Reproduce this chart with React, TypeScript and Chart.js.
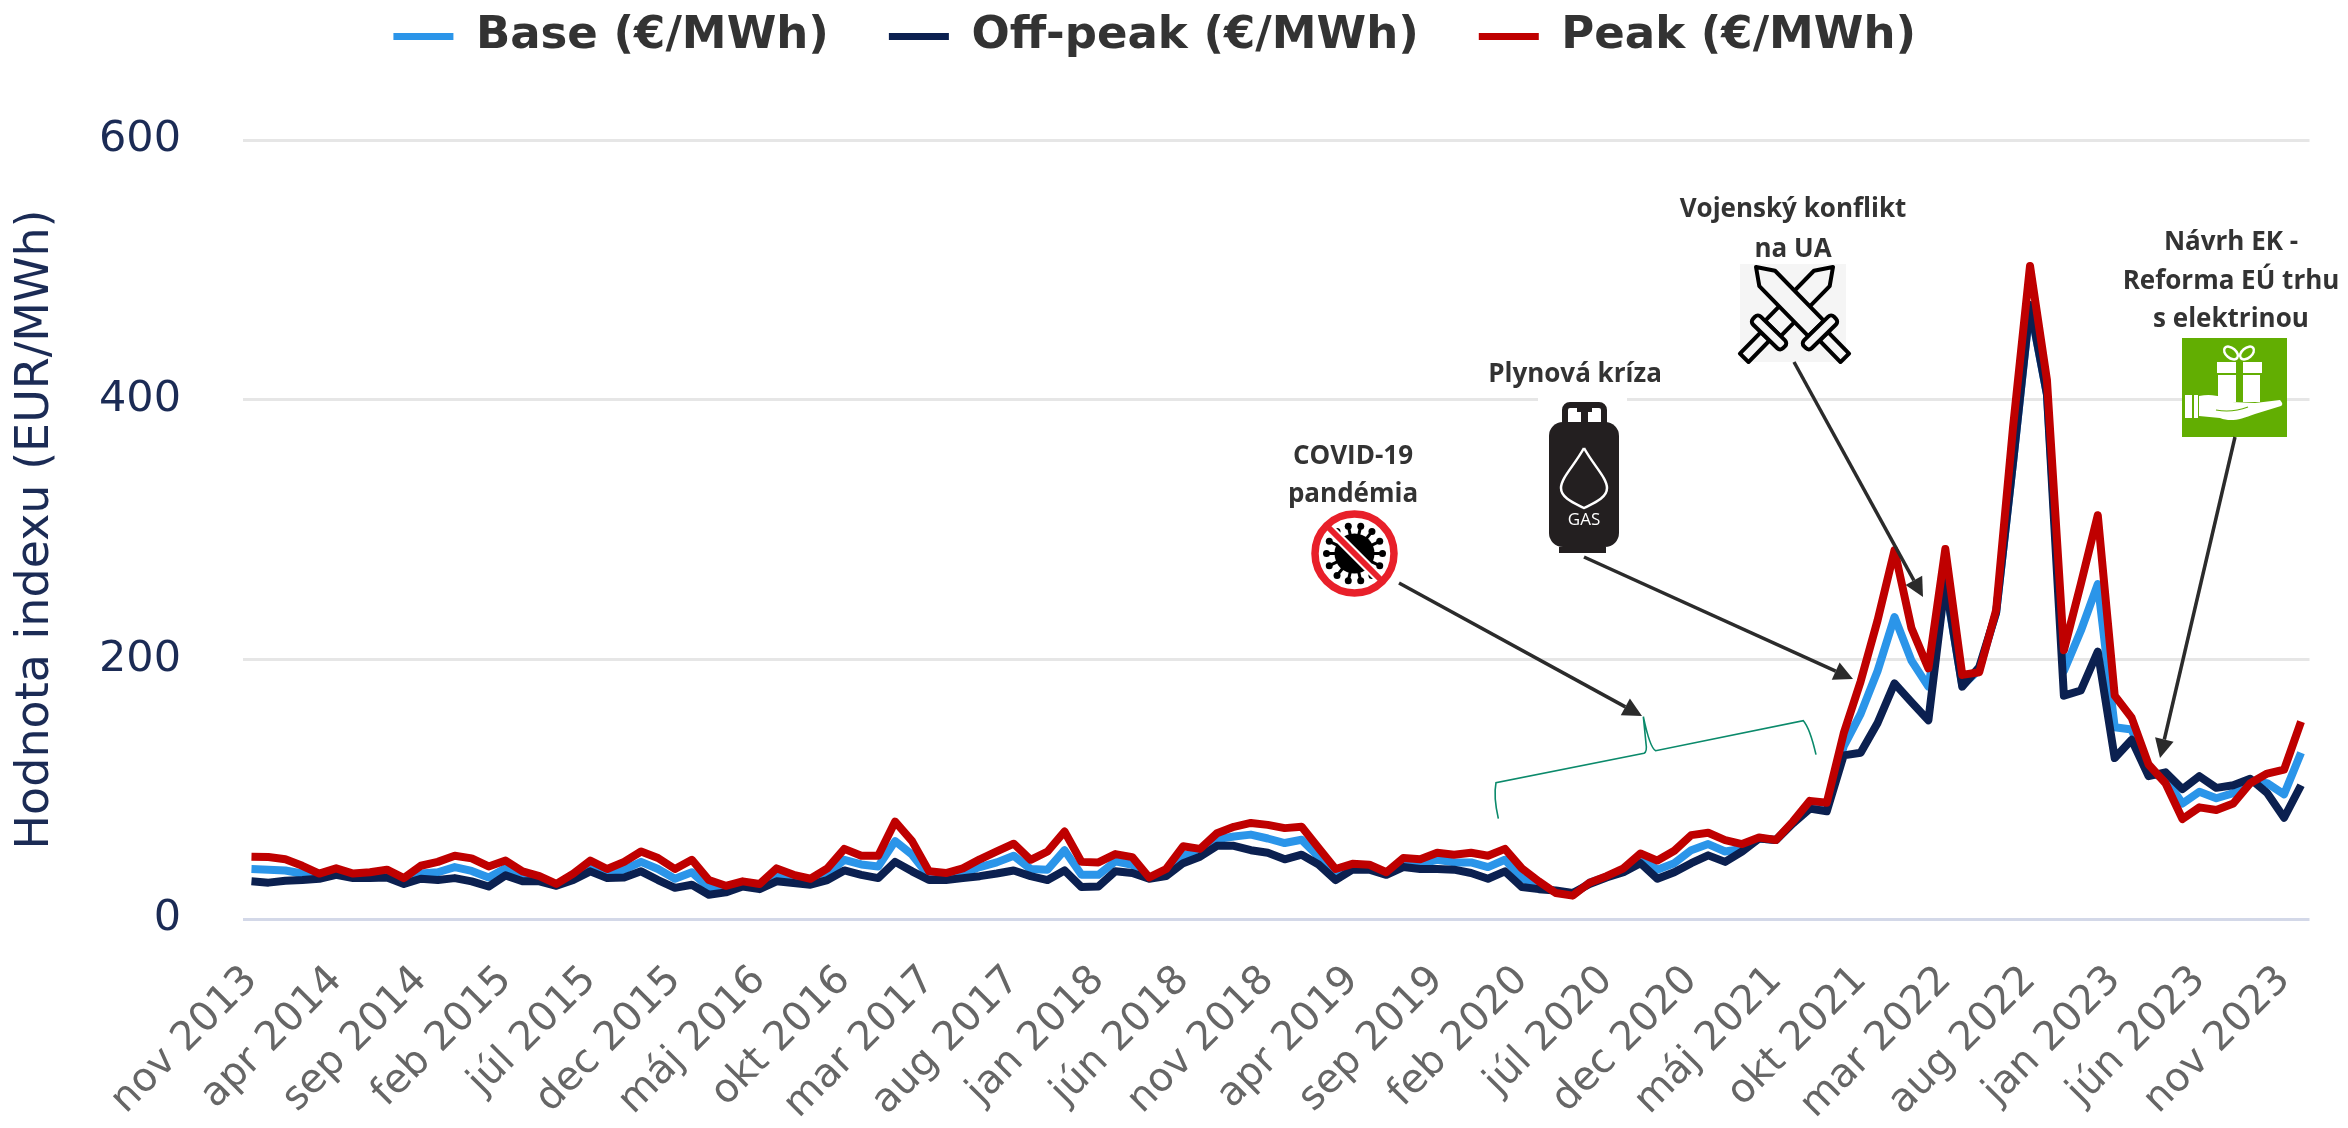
import React, { useEffect, useRef } from "react";
import { Chart, registerables } from "chart.js";

Chart.register(...registerables);

const monthNames = ["jan", "feb", "mar", "apr", "máj", "jún", "júl", "aug", "sep", "okt", "nov", "dec"];
const categories: string[] = [];
for (let i = 0; i < 122; i++) {
  const m = (10 + i) % 12;
  const y = 2013 + Math.floor((10 + i) / 12);
  categories.push(`${monthNames[m]} ${y}`);
}

const baseValues = [
  38.5, 38, 37.4, 35, 34, 37, 33.6, 34, 34.6, 29.5,
  35, 36, 40, 37, 32, 39, 33, 31, 26, 33,
  41, 35, 38, 44, 38.5, 31, 36, 24, 23, 27,
  25, 34, 31, 29, 35, 45.6, 42, 40.5, 60, 49.5,
  33, 33, 35.4, 40, 43.6, 48.7, 38.5, 38, 53, 34,
  34, 44.4, 41.8, 31.5, 35.4, 49.5, 49.5, 61.5, 63.6, 65,
  62, 58.5, 61, 48, 34, 40, 40, 35, 43.6, 42.5,
  45.6, 43.6, 43.6, 40, 45.6, 31.5, 26, 21, 18.7, 28,
  32.5, 37.7, 46.7, 38, 43, 53, 57.7, 52, 54, 62,
  60.8, 74, 88, 86, 133, 158, 191, 232.6, 199, 179,
  258, 180, 192, 236, 352, 472, 404, 191, 222, 258,
  147.7, 146, 113.6, 108, 89, 98, 93, 97, 106, 104.6, 96, 128,
];
const offPeakValues = [
  29, 28, 29.5, 30, 31, 34, 31.5, 31.5, 32, 27,
  31, 30, 31.5, 29, 25, 33.6, 29, 29, 25.6, 30,
  36.7, 31.5, 32, 36.7, 30, 24, 26.4, 18.7, 20.5, 25,
  23, 29, 27.7, 26.4, 30, 37.4, 34, 31.5, 44, 36.7,
  30, 30, 31.5, 33, 35, 37.4, 33, 30, 37.4, 24.6,
  25, 36.7, 35.4, 31, 33, 43, 48, 56.4, 56.4, 53,
  51, 46, 49.5, 42, 30, 38, 38, 34, 40, 38.5,
  38.5, 38, 35.4, 31, 36.7, 24.6, 23, 22, 20, 27,
  32, 36, 43, 31, 36, 43, 49, 44, 52, 62,
  60.8, 73.6, 85, 83, 126, 128, 151, 181.5, 167, 153,
  260, 179, 194, 236, 352, 473, 404, 172, 176, 206,
  124, 138, 110, 113, 100, 110, 101, 103, 108, 97, 78, 103,
];
const peakValues = [
  48, 47.7, 46, 41, 35, 39, 35, 36, 38, 31.5,
  41, 44, 48.7, 46.7, 40.5, 45, 36.7, 33, 27, 35,
  45, 38.5, 44, 52, 47, 38.5, 45.6, 30, 25.6, 29,
  27, 39, 34, 31, 39, 54, 48.7, 48.7, 75, 60,
  36.7, 35.4, 39, 46, 52, 58, 45.6, 52, 67.4, 44,
  43.6, 50, 47.7, 32, 38.5, 56, 54, 66, 71, 74,
  72.5, 70, 71, 54.6, 38.5, 42.5, 41.8, 36, 47, 46,
  51, 49.5, 51, 48.7, 54, 39, 29, 20, 18, 28,
  33, 39, 50.5, 45, 52.6, 64.6, 66.4, 60.8, 57.7, 62.8,
  60.8, 75, 91, 89.5, 143, 183, 230, 284, 224, 193,
  285, 188, 190, 238, 379, 503, 415, 207, 258, 311,
  172, 155, 119, 104.6, 77, 86, 84, 89, 104.6, 112, 115, 152,
];

const NOTE_FONT = 'bold 26px "Open Sans"';
const NOTE_COLOR = "#333333";
const notes: [string, number, number][] = [
  ["Vojenský konflikt", 1793, 210],
  ["na UA", 1793, 250],
  ["Plynová kríza", 1575, 375],
  ["COVID-19", 1353, 457],
  ["pandémia", 1353, 495],
  ["Návrh EK -", 2231, 243],
  ["Reforma EÚ trhu", 2231, 282],
  ["s elektrinou", 2231, 320],
];
const arrows: [number, number, number, number][] = [
  [1399, 583, 1642, 716],
  [1584, 557, 1853, 679],
  [1794, 362, 1923, 597],
  [2235, 437, 2160, 758],
];

function drawArrow(c: CanvasRenderingContext2D, a: [number, number, number, number]) {
  const [x0, y0, x1, y1] = a;
  const t = Math.atan2(y1 - y0, x1 - x0);
  const hl = 19, hw = 9.5;
  c.strokeStyle = "#2b2b2b";
  c.fillStyle = "#2b2b2b";
  c.lineWidth = 3.5;
  c.beginPath();
  c.moveTo(x0, y0);
  c.lineTo(x1 - hl * Math.cos(t), y1 - hl * Math.sin(t));
  c.stroke();
  c.beginPath();
  c.moveTo(x1, y1);
  c.lineTo(x1 - hl * Math.cos(t) - hw * Math.sin(t), y1 - hl * Math.sin(t) + hw * Math.cos(t));
  c.lineTo(x1 - hl * Math.cos(t) + hw * Math.sin(t), y1 - hl * Math.sin(t) - hw * Math.cos(t));
  c.closePath();
  c.fill();
}

function drawBrace(c: CanvasRenderingContext2D) {
  const X = (v: number) => 1480 + v / 3;
  const Y = (v: number) => 640 + v / 3;
  c.strokeStyle = "#0b8a6b";
  c.lineWidth = 1.6;
  c.beginPath();
  c.moveTo(X(55), Y(536));
  c.quadraticCurveTo(X(40), Y(470), X(48), Y(428));
  c.lineTo(X(492), Y(340));
  c.quadraticCurveTo(X(502), Y(335), X(498), Y(310));
  c.lineTo(X(490), Y(230));
  c.quadraticCurveTo(X(510), Y(325), X(527), Y(332));
  c.lineTo(X(970), Y(242));
  c.quadraticCurveTo(X(990), Y(265), X(1008), Y(344));
  c.stroke();
}

function drawSword(c: CanvasRenderingContext2D, x: number, y: number, angle: number, fill: string) {
  c.save();
  c.translate(x, y);
  c.rotate(angle);
  c.lineWidth = 4;
  c.strokeStyle = "#000";
  c.fillStyle = fill;
  c.lineJoin = "round";
  c.beginPath();
  c.moveTo(0, 0);
  c.lineTo(16, -11);
  c.lineTo(86, -11);
  c.lineTo(86, 11);
  c.lineTo(16, 11);
  c.closePath();
  c.fill();
  c.stroke();
  c.beginPath();
  c.rect(97, -6, 30, 12);
  c.fill();
  c.stroke();
  c.beginPath();
  c.roundRect(86, -21, 11, 42, 4);
  c.fill();
  c.stroke();
  c.restore();
}

function drawSwords(c: CanvasRenderingContext2D) {
  c.fillStyle = "#f5f5f5";
  c.fillRect(1740, 264, 106, 98);
  drawSword(c, 1833, 267, Math.PI - Math.atan2(90, 88), "#f5f5f5");
  drawSword(c, 1756, 267, Math.atan2(90, 88), "#f5f5f5");
}

function drawGas(c: CanvasRenderingContext2D) {
  const dark = "#231f20";
  c.fillStyle = "#ffffff";
  c.fillRect(1538, 396, 89, 14);
  c.fillStyle = dark;
  c.strokeStyle = dark;
  c.lineWidth = 6;
  c.beginPath();
  c.roundRect(1565, 405, 39, 24, 5);
  c.stroke();
  c.fillRect(1577, 407, 15, 5);
  c.fillRect(1581, 410, 7, 14);
  c.beginPath();
  c.roundRect(1549, 422, 70, 125, 14);
  c.fill();
  c.fillRect(1559, 547, 47, 6);
  c.strokeStyle = "#ffffff";
  c.lineWidth = 2.5;
  c.beginPath();
  c.moveTo(1584, 448);
  c.bezierCurveTo(1574, 466, 1561, 478, 1561, 488);
  c.bezierCurveTo(1561, 498, 1574, 503, 1584, 508);
  c.bezierCurveTo(1594, 503, 1607, 498, 1607, 488);
  c.bezierCurveTo(1607, 478, 1594, 466, 1584, 448);
  c.stroke();
  c.fillStyle = "#ffffff";
  c.font = '17px "Open Sans"';
  c.textAlign = "center";
  c.textBaseline = "middle";
  c.fillText("GAS", 1584, 520);
}

function drawCovid(c: CanvasRenderingContext2D) {
  const cx = 1354.5, cy = 553.5;
  c.fillStyle = "#ffffff";
  c.beginPath();
  c.arc(cx, cy, 40, 0, Math.PI * 2);
  c.fill();
  c.strokeStyle = "#000";
  c.fillStyle = "#000";
  c.lineWidth = 3;
  for (let i = 0; i < 14; i++) {
    const t = (i / 14) * Math.PI * 2;
    c.beginPath();
    c.moveTo(cx + 14 * Math.cos(t), cy + 14 * Math.sin(t));
    c.lineTo(cx + 28 * Math.cos(t), cy + 28 * Math.sin(t));
    c.stroke();
    c.beginPath();
    c.arc(cx + 28 * Math.cos(t), cy + 28 * Math.sin(t), 3.5, 0, Math.PI * 2);
    c.fill();
  }
  c.beginPath();
  c.arc(cx, cy, 20, 0, Math.PI * 2);
  c.fill();
  c.strokeStyle = "#ffffff";
  c.lineWidth = 10;
  c.beginPath();
  c.moveTo(cx - 28, cy - 28);
  c.lineTo(cx + 28, cy + 28);
  c.stroke();
  c.strokeStyle = "#e8202a";
  c.lineWidth = 6;
  c.beginPath();
  c.moveTo(cx - 29, cy - 29);
  c.lineTo(cx + 29, cy + 29);
  c.stroke();
  c.lineWidth = 7.5;
  c.beginPath();
  c.arc(cx, cy, 39.5, 0, Math.PI * 2);
  c.stroke();
}

function drawGift(c: CanvasRenderingContext2D) {
  const green = "#62ae02";
  c.fillStyle = green;
  c.fillRect(2182, 338, 105, 99);
  c.fillStyle = "#ffffff";
  c.strokeStyle = "#ffffff";
  c.fillRect(2217, 362, 45, 11);
  c.fillRect(2218, 375, 42, 27);
  c.fillStyle = green;
  c.fillRect(2236, 362, 7, 40);
  c.fillStyle = "#ffffff";
  c.lineWidth = 2.5;
  c.beginPath();
  c.ellipse(2231, 353, 8, 5, 0.7, 0, Math.PI * 2);
  c.stroke();
  c.beginPath();
  c.ellipse(2247, 353, 8, 5, -0.7, 0, Math.PI * 2);
  c.stroke();
  c.fillRect(2185, 395, 7, 23);
  c.fillRect(2194, 395, 4, 23);
  c.beginPath();
  c.moveTo(2199, 396);
  c.bezierCurveTo(2215, 393, 2225, 398, 2232, 402);
  c.lineTo(2255, 403);
  c.lineTo(2280, 400);
  c.quadraticCurveTo(2284, 404, 2281, 406);
  c.lineTo(2255, 414);
  c.bezierCurveTo(2240, 420, 2230, 422, 2220, 418);
  c.lineTo(2199, 416);
  c.closePath();
  c.fill();
  c.strokeStyle = green;
  c.lineWidth = 1.2;
  c.beginPath();
  c.moveTo(2216, 410);
  c.quadraticCurveTo(2232, 413, 2248, 407);
  c.stroke();
}

const annotationPlugin = {
  id: "annotationPlugin",
  afterDraw(chart: Chart) {
    const c = chart.ctx;
    c.save();
    drawBrace(c);
    drawSwords(c);
    drawGas(c);
    drawCovid(c);
    drawGift(c);
    arrows.forEach((a) => drawArrow(c, a));
    c.fillStyle = NOTE_COLOR;
    c.font = NOTE_FONT;
    c.textAlign = "center";
    c.textBaseline = "middle";
    notes.forEach(([t, x, y]) => c.fillText(t, x, y));
    c.restore();
  },
};

export default function App() {
  const ref = useRef<HTMLCanvasElement>(null);
  useEffect(() => {
    const mk = (label: string, data: number[], color: string, order: number) => ({
      label,
      data,
      order,
      borderColor: color,
      backgroundColor: color,
      borderWidth: 8,
      pointRadius: 0,
      tension: 0,
      borderJoinStyle: "round" as const,
    });
    const chart = new Chart(ref.current!, {
      type: "line",
      data: {
        labels: categories,
        datasets: [
          mk("Base (€/MWh)", baseValues, "#2b95e9", 3),
          mk("Off-peak (€/MWh)", offPeakValues, "#0b2050", 2),
          mk("Peak (€/MWh)", peakValues, "#bf0000", 1),
        ],
      },
      plugins: [annotationPlugin],
      options: {
        animation: false,
        responsive: false,
        layout: { autoPadding: false, padding: { top: -46, right: 38.5, left: 0, bottom: 0 } },
        plugins: {
          tooltip: { enabled: false },
          legend: {
            position: "top",
            weight: 1000,
            labels: {
              boxWidth: 60,
              boxHeight: 7,
              padding: 60,
              color: "#333333",
              font: { family: '"DejaVu Sans"', size: 45, weight: "bold" },
              sort: (a: any, b: any) => a.datasetIndex - b.datasetIndex,
              generateLabels: (c: any) =>
                (Chart.defaults.plugins.legend.labels as any)
                  .generateLabels(c)
                  .map((i: any) => ({ ...i, lineWidth: 0 })),
            },
          },
          subtitle: {
            display: true,
            text: " ",
            weight: 500,
            font: { size: 10 },
            padding: { top: 14, bottom: 45 },
          } as any,
        },
        scales: {
          x: {
            type: "category",
            offset: true,
            grid: { display: false },
            border: { display: false },
            afterFit: (s: any) => { s.height = 209; s.paddingLeft = 0; s.paddingRight = 0; },
            ticks: {
              autoSkip: false,
              minRotation: 45,
              maxRotation: 45,
              padding: 30,
              color: "#666666",
              font: { family: '"DejaVu Sans"', size: 40 },
              callback(_v: any, i: number) {
                return i % 5 === 0 ? categories[i] : "";
              },
            },
          },
          y: {
            min: 0,
            max: 600,
            afterFit: (s: any) => { s.width = 243; s.paddingTop = 0; s.paddingBottom = 0; },
            border: { display: false },
            grid: {
              lineWidth: 3,
              drawTicks: false,
              color: (ctx: any) => (ctx.tick && ctx.tick.value === 0 ? "#d3d8e8" : "#e6e6e6"),
            },
            ticks: {
              stepSize: 200,
              padding: 62,
              color: "#1b2b55",
              font: { family: '"DejaVu Sans"', size: 43 },
            },
            title: {
              display: true,
              text: "Hodnota indexu (EUR/MWh)",
              color: "#1b2b55",
              font: { family: '"DejaVu Sans"', size: 46 },
              padding: { top: 8, bottom: 0 },
            },
          },
        },
      },
    });
    return () => chart.destroy();
  }, []);
  return (
    <canvas
      ref={ref}
      width={2348}
      height={1128}
      style={{ position: "absolute", left: 0, top: 0, display: "block" }}
    />
  );
}
